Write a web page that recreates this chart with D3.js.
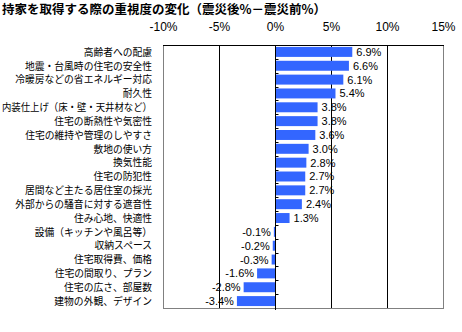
<!DOCTYPE html>
<html><head><meta charset="utf-8">
<script src="https://cdn.jsdelivr.net/npm/d3@7"></script>
<style>
body{margin:0;background:#fff;}
svg{display:block;}
</style></head>
<body>
<script>
const title = "持家を取得する際の重視度の変化（震災後%－震災前%）";
const categories = [
  "高齢者への配慮",
  "地震・台風時の住宅の安全性",
  "冷暖房などの省エネルギー対応",
  "耐久性",
  "内装仕上げ（床・壁・天井材など）",
  "住宅の断熱性や気密性",
  "住宅の維持や管理のしやすさ",
  "敷地の使い方",
  "換気性能",
  "住宅の防犯性",
  "居間など主たる居住室の採光",
  "外部からの騒音に対する遮音性",
  "住み心地、快適性",
  "設備（キッチンや風呂等）",
  "収納スペース",
  "住宅取得費、価格",
  "住宅の間取り、プラン",
  "住宅の広さ、部屋数",
  "建物の外観、デザイン"
];
const values = [6.9, 6.6, 6.1, 5.4, 3.8, 3.8, 3.6, 3.0, 2.8, 2.7, 2.7, 2.4, 1.3, -0.1, -0.2, -0.3, -1.6, -2.8, -3.4];
const tickValues = [-10, -5, 0, 5, 10, 15];

(function(){
const W = 462, H = 332;
const svg = d3.select("body").append("svg").attr("width", W).attr("height", H);
const pl = 163, pr = 443, pt = 45, pb = 308;

const x = d3.scaleLinear().domain([-10, 15]).range([pl, pr]);
const y = d3.scaleBand().domain(categories).range([pt, pb]).paddingInner(0.28).paddingOuter(0.14);

svg.append("text").attr("x", 2).attr("y", 14)
  .attr("font-family", "'Noto Sans CJK JP'").attr("font-weight", "bold").attr("font-size", 12.5)
  .text(title);

// top axis labels
const xAxis = d3.axisTop(x).tickValues(tickValues).tickSize(0).tickPadding(0).tickFormat(d => d + "%");
const gx = svg.append("g").attr("transform", `translate(0,${pt - 14})`).call(xAxis);
gx.select(".domain").remove();
gx.selectAll("text").attr("font-family", "'Liberation Sans', Arial").attr("font-size", 12).attr("fill", "#000").attr("dy", 0);

// plot frame
svg.append("rect").attr("x", pl + 0.5).attr("y", pt + 0.5).attr("width", pr - pl).attr("height", pb - pt)
  .attr("fill", "#fff").attr("stroke", "#808080").attr("stroke-width", 1);
svg.append("line").attr("x1", pl).attr("x2", pr + 1).attr("y1", pt + 0.5).attr("y2", pt + 0.5)
  .attr("stroke", "#000");

// gridlines
svg.append("g").selectAll("line").data([-5, 5, 10]).join("line")
  .attr("x1", d => Math.round(x(d)) + 0.5).attr("x2", d => Math.round(x(d)) + 0.5)
  .attr("y1", pt).attr("y2", pb).attr("stroke", "#000");

// bars
svg.append("g").selectAll("rect").data(values).join("rect")
  .attr("x", d => x(Math.min(0, d)))
  .attr("y", (d, i) => y(categories[i]))
  .attr("width", d => Math.abs(x(d) - x(0)))
  .attr("height", y.bandwidth())
  .attr("fill", "#3366FF");

// zero axis with ticks
const x0 = Math.round(x(0)) + 0.5;
svg.append("line").attr("x1", x0).attr("x2", x0).attr("y1", pt).attr("y2", pb + 2).attr("stroke", "#000");
const step = y.step();
const boundaries = d3.range(1, categories.length).map(i => y(categories[i]) - step * 0.14);
svg.append("g").selectAll("line").data(boundaries).join("line")
  .attr("x1", x0).attr("x2", x0 + 3)
  .attr("y1", d => Math.round(d) + 0.5).attr("y2", d => Math.round(d) + 0.5)
  .attr("stroke", "#000");

// value labels
svg.append("g").selectAll("text").data(values).join("text")
  .attr("x", d => d >= 0 ? x(d) + 4 : x(d) - 3)
  .attr("y", (d, i) => y(categories[i]) + y.bandwidth() / 2)
  .attr("dy", "0.36em")
  .attr("text-anchor", d => d >= 0 ? "start" : "end")
  .attr("font-family", "'Liberation Sans Narrow', 'Liberation Sans', Arial")
  .attr("font-size", 11)
  .text(d => d.toFixed(1) + "%");

// category labels
const catLabels = svg.append("g").selectAll("text").data(categories).join("text")
  .attr("x", 152)
  .attr("y", d => y(d) + y.bandwidth() / 2)
  .attr("dy", "0.36em")
  .attr("text-anchor", "end")
  .attr("font-family", "'Noto Sans CJK JP'")
  .attr("font-size", 10.5)
  .text(d => d);
catLabels.each(function(){
  const w = this.getComputedTextLength();
  const target = Math.min(w * 0.93, 150);
  d3.select(this).attr("textLength", target).attr("lengthAdjust", "spacingAndGlyphs");
});
})();
</script>
</body></html>
